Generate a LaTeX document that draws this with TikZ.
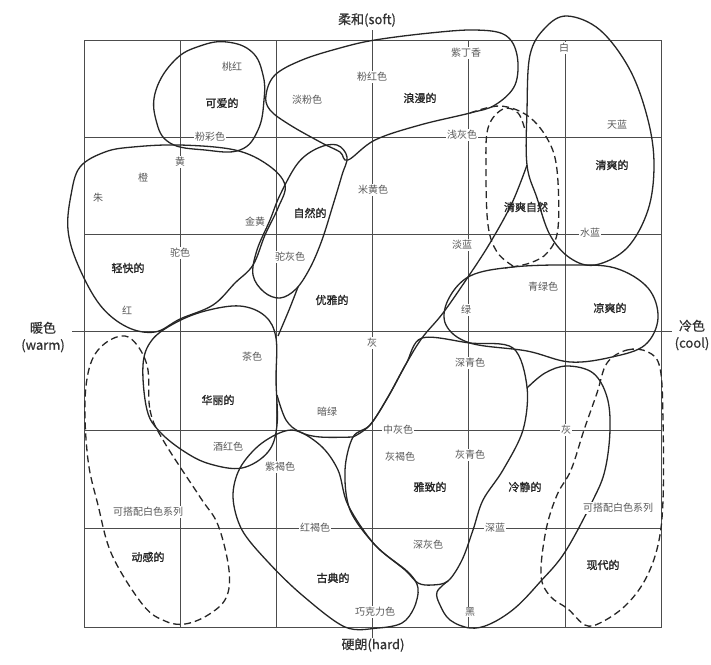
\documentclass[tikz,border=0pt]{standalone}
\usepackage{fontspec}
\newfontfamily\cjk{Noto Sans CJK SC}
\newfontfamily\cjkb[FakeBold=1.3]{Noto Sans CJK SC}
\newfontfamily\cjkax[FakeBold=0.6]{Noto Sans CJK SC}
\begin{document}
\begin{tikzpicture}[x=1pt,y=-1pt,
  gridline/.style={draw=black!70, line width=0.9pt},
  blob/.style={draw=black!85, line width=1.3pt, line join=round},
  dblob/.style={blob, dash pattern=on 7pt off 4pt},
  lbl/.style={font=\cjk\fontsize{10}{12}\selectfont, text=black!65, fill=white, inner sep=1pt},
  blbl/.style={font=\cjkb\fontsize{11}{13}\selectfont, text=black!85, inner sep=1pt},
  axl/.style={font=\cjkax\fontsize{13}{17}\selectfont, text=black!80, align=center, inner sep=1pt}]

\useasboundingbox (0,0) rectangle (711,664);
\fill[white] (0,0) rectangle (711,664);

% grid
\draw[gridline] (84,40) rectangle (661,627);
\foreach \gx in {180,276,468,565} \draw[gridline] (\gx,40) -- (\gx,627);
\foreach \gy in {137,234,430,528} \draw[gridline] (84,\gy) -- (661,\gy);
\draw[gridline] (372,30) -- (372,638);
\draw[gridline] (72,331) -- (672,331);

% pretty
\draw[blob] plot[smooth cycle, tension=0.7] coordinates {(227,42) (252,52) (263,75) (264,100) (258,130) (240,150) (205,150) (170,143) (156,120) (156,90) (175,60) (200,46)};
% romantic
\draw[blob] plot[smooth cycle, tension=0.6] coordinates {(266,95) (275,75) (302,60) (340,48) (375,40) (430,33) (475,30) (505,35) (517,55) (515,85) (495,105) (470,113) (420,125) (375,140) (348,160) (340,152) (322,143) (290,125) (270,110)};
% casual
\draw[blob] plot[smooth cycle, tension=0.6] coordinates {(80,167) (105,152) (133,147) (180,145) (235,150) (268,165) (285,185) (278,208) (265,235) (253,265) (235,283) (213,305) (180,319) (155,332) (127,327) (100,305) (78,265) (68,230) (71,195)};
% natural
\draw[blob] plot[smooth cycle, tension=0.6] coordinates {(298,163) (318,148) (337,145) (347,157) (342,175) (333,205) (322,240) (310,268) (296,289) (280,298) (264,292) (253,275) (257,250) (270,220) (280,195)};
\draw[blob] plot[smooth, tension=0.6] coordinates {(298,287) (289,310) (278,336)};
% gorgeous
\draw[blob] plot[smooth cycle, tension=0.6] coordinates {(143,365) (152,340) (175,323) (205,311) (240,306) (265,316) (276,338) (276,380) (277,425) (268,452) (242,468) (210,464) (185,452) (160,432) (147,410)};
% elegant boundaries
\draw[blob] plot[smooth, tension=0.6] coordinates {(277,395) (286,420) (300,432) (320,437) (353,437)};
\draw[blob] plot[smooth, tension=0.6] coordinates {(527,165) (512,203) (490,243) (468,277) (443,313) (422,338) (406,364) (388,397) (370,425) (353,437)};
% clear
\draw[blob] plot[smooth cycle, tension=0.6] coordinates {(527,165) (527,110) (530,55) (545,28) (567,16) (600,30) (630,70) (648,120) (654,165) (648,210) (627,248) (595,265) (570,258) (550,235) (537,198)};
% cool natural loops
\draw[dblob] plot[smooth, tension=0.6] coordinates {(513,266) (497,252) (488,225) (486,170) (488,128) (503,109) (518,113) (525,130)};
\draw[dblob] plot[smooth, tension=0.6] coordinates {(470,113) (500,106) (528,116) (548,140) (557,170) (558,228) (548,252) (530,263) (505,268)};
% cool casual
\draw[blob] plot[smooth cycle, tension=0.6] coordinates {(470,276) (513,267) (570,265) (615,268) (648,288) (658,318) (645,345) (612,357) (570,362) (527,351) (470,343) (446,325) (448,300)};
% chic
\draw[blob] plot[smooth cycle, tension=0.55] coordinates {(353,437) (370,425) (388,397) (406,364) (422,338) (470,343) (513,348) (527,387) (523,430) (503,470) (483,500) (473,530) (462,560) (448,581) (432,585) (418,583) (405,570) (375,545) (350,510) (345,470)};
% formal
\draw[blob] plot[smooth, tension=0.6] coordinates {(527,388) (545,373) (567,366) (593,373) (607,397) (610,430) (605,470) (593,500) (565,552) (540,582) (515,608) (490,624) (470,628) (450,620) (440,605) (437,592) (448,581)};
% classic
\draw[blob] plot[smooth cycle, tension=0.55] coordinates {(292,430) (320,445) (338,470) (348,505) (375,545) (408,572) (418,588) (414,608) (402,623) (378,628) (345,627) (302,595) (268,562) (242,530) (233,497) (240,468) (262,443)};
% dynamic
\draw[dblob] plot[smooth cycle, tension=0.6] coordinates {(147,365) (150,410) (163,440) (200,497) (218,525) (229,570) (226,598) (208,615) (185,624) (165,621) (143,605) (112,555) (98,505) (88,460) (85,400) (92,360) (110,340) (130,338)};
% modern
\draw[dblob] plot[smooth cycle, tension=0.6] coordinates {(607,363) (627,350) (648,352) (660,368) (663,420) (663,500) (658,545) (645,580) (625,606) (600,623) (585,625) (568,609) (550,596) (541,575) (546,530) (557,495) (571,470) (584,430) (597,393)};

% axis labels
\node[axl] (soft) at (367,20) {柔和(soft)};
\node[axl] (hard) at (373,645) {硬朗(hard)};
\node[axl] (warm) at (43,337) {暖色\\(warm)};
\node[axl] (cool) at (692,335) {冷色\\(cool)};

% small labels
\node[lbl] (l1) at (232,67) {桃红};
\node[lbl] (l2) at (210,137) {粉彩色};
\node[lbl] (l3) at (307,100) {淡粉色};
\node[lbl] (l4) at (372,77) {粉红色};
\node[lbl] (l5) at (466,53) {紫丁香};
\node[lbl] (l6) at (462,135) {浅灰色};
\node[lbl] (l7) at (564,48) {白};
\node[lbl] (l8) at (617,125) {天蓝};
\node[lbl] (l9) at (590,233) {水蓝};
\node[lbl] (l10) at (462,245) {淡蓝};
\node[lbl] (l11) at (543,287) {青绿色};
\node[lbl] (l12) at (466,310) {绿};
\node[lbl] (l13) at (180,162) {黄};
\node[lbl] (l14) at (143,178) {橙};
\node[lbl] (l15) at (98,198) {朱};
\node[lbl] (l16) at (255,222) {金黄};
\node[lbl] (l17) at (180,253) {驼色};
\node[lbl] (l18) at (127,310) {红};
\node[lbl] (l19) at (373,190) {米黄色};
\node[lbl] (l20) at (290,257) {驼灰色};
\node[lbl] (l21) at (252,357) {茶色};
\node[lbl] (l22) at (228,447) {酒红色};
\node[lbl] (l23) at (280,467) {紫褐色};
\node[lbl] (l24) at (327,412) {暗绿};
\node[lbl] (l25) at (372,343) {灰};
\node[lbl] (l26) at (398,430) {中灰色};
\node[lbl] (l27) at (470,363) {深青色};
\node[lbl] (l28) at (400,457) {灰褐色};
\node[lbl] (l29) at (470,455) {灰青色};
\node[lbl] (l30) at (566,430) {灰};
\node[lbl] (l31) at (148,512) {可搭配白色系列};
\node[lbl] (l32) at (618,508) {可搭配白色系列};
\node[lbl] (l33) at (315,528) {红褐色};
\node[lbl] (l34) at (495,528) {深蓝};
\node[lbl] (l35) at (428,545) {深灰色};
\node[lbl] (l36) at (375,612) {巧克力色};
\node[lbl] (l37) at (470,612) {黑};

% region labels
\node[blbl] (b1) at (222,103) {可爱的};
\node[blbl] (b2) at (420,98) {浪漫的};
\node[blbl] (b3) at (128,268) {轻快的};
\node[blbl] (b4) at (310,213) {自然的};
\node[blbl] (b5) at (332,300) {优雅的};
\node[blbl] (b6) at (612,165) {清爽的};
\node[blbl] (b7) at (526,207) {清爽自然};
\node[blbl] (b8) at (610,308) {凉爽的};
\node[blbl] (b9) at (218,400) {华丽的};
\node[blbl] (b10) at (148,557) {动感的};
\node[blbl] (b11) at (430,487) {雅致的};
\node[blbl] (b12) at (525,487) {冷静的};
\node[blbl] (b13) at (333,578) {古典的};
\node[blbl] (b14) at (603,565) {现代的};
\end{tikzpicture}
\end{document}
